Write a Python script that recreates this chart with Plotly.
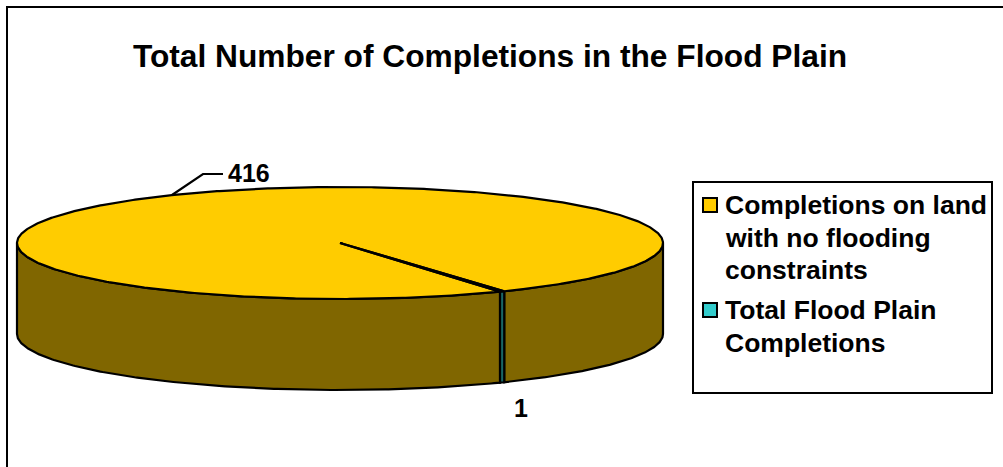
import numpy as np
import plotly.graph_objects as go

categories = ["Completions on land with no flooding constraints", "Total Flood Plain Completions"]
values = [416, 1]
data_labels = ["416", "1"]
legend_lines = [["Completions on land", "with no flooding", "constraints"],
                ["Total Flood Plain", "Completions"]]
title_text = "Total Number of Completions in the Flood Plain"

TOP = ["#FFCC00", "#33CCCC"]
SIDE = ["#806600", "#1A6666"]
W, H = 1003, 467
CX, CY, RX, RY, DEPTH = 340, 243, 323, 56, 91
START = 150.3  # first slice angle, clockwise from 12 o'clock

shares = np.array(values) / sum(values) * 360
starts = START + np.concatenate([[0], np.cumsum(shares)[:-1]])


def px(a):
    return CX + RX * np.sin(np.radians(a))


def py(a, d=0):
    return CY - RY * np.cos(np.radians(a)) + d


def wall(a0, a1):
    a = np.linspace(a0, a1, 200)
    xs = np.concatenate([px(a), px(a[::-1]), px(a[:1])])
    ys = np.concatenate([py(a), py(a[::-1], DEPTH), py(a[:1])])
    return xs, ys


LINE = dict(color="black", width=2.2)
fig = go.Figure()


def poly(xs, ys, fill):
    fig.add_trace(go.Scatter(x=xs, y=ys, mode="lines", fill="toself", fillcolor=fill,
                             line=LINE, hoverinfo="skip", showlegend=False))


# front wall: visible part of every slice
a_end = START + shares[0]          # start of slice 2 (wrapped)
tiny0, tiny1 = a_end - 360, a_end - 360 + shares[1]
poly(*wall(90, tiny0), SIDE[0])
poly(*wall(tiny1, 270), SIDE[0])
poly(*wall(tiny0, tiny1), SIDE[1])

# top faces
for i, (s, sh) in enumerate(zip(starts, shares)):
    a = np.linspace(s, s + sh, 720 if sh > 10 else 5)
    poly(np.concatenate([[CX], px(a), [CX]]), np.concatenate([[CY], py(a), [CY]]), TOP[i])

# leader line for the large slice
fig.add_trace(go.Scatter(x=[172, 203, 223], y=[195, 174, 174], mode="lines", line=LINE,
                         hoverinfo="skip", showlegend=False))

# legend swatches
LEG_X = 710
LEG_Y = [205, 310]
fig.add_trace(go.Scatter(x=[LEG_X, LEG_X], y=LEG_Y, mode="markers",
                         marker=dict(symbol="square", size=14, color=TOP,
                                     line=dict(color="black", width=2)),
                         hoverinfo="skip", showlegend=False))

FONT = "Liberation Sans, Arial, sans-serif"
ann = []
LINE_H = 32.5
for y0, lines in zip(LEG_Y, legend_lines):
    for j, t in enumerate(lines):
        ann.append(dict(x=723, y=y0 + j * LINE_H, text=f"<b>{t}</b>", showarrow=False, xanchor="left",
                        yanchor="middle", font=dict(family=FONT, size=26.5, color="black")))
ann.append(dict(x=226, y=173, text=f"<b>{data_labels[0]}</b>", showarrow=False, xanchor="left", yanchor="middle",
                font=dict(family=FONT, size=25, color="black")))
ann.append(dict(x=521, y=408, text=f"<b>{data_labels[1]}</b>", showarrow=False, xanchor="center", yanchor="middle",
                font=dict(family=FONT, size=25, color="black")))

shapes = [
    dict(type="path", path=f"M 7 {H} L 7 7 L {W} 7", line=dict(color="black", width=2)),
    dict(type="rect", x0=693, y0=182, x1=992, y1=393, line=dict(color="black", width=2), fillcolor="white", layer="below"),
]

fig.update_layout(
    width=W, height=H, margin=dict(l=0, r=0, t=0, b=0), paper_bgcolor="white", plot_bgcolor="white",
    xaxis=dict(range=[0, W], visible=False, fixedrange=True),
    yaxis=dict(range=[H, 0], visible=False, fixedrange=True),
    title=dict(text=f"<b>{title_text}</b>", x=490 / W, xanchor="center", y=1 - 56 / H, yanchor="middle",
               font=dict(family=FONT, size=31.7, color="black")),
    annotations=ann, shapes=shapes, showlegend=False,
)
fig.write_html("out.html", post_script="document.body.style.margin='0';",
               config={"displayModeBar": False})
